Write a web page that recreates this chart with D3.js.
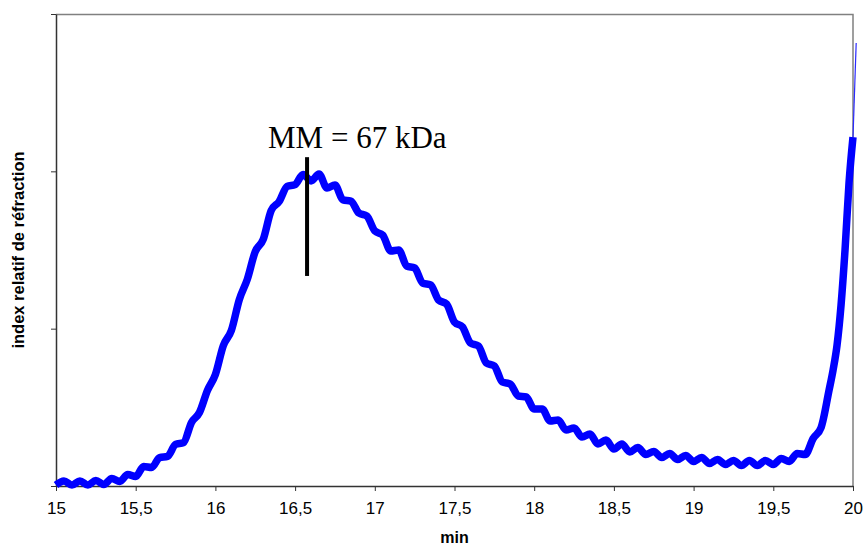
<!DOCTYPE html>
<html>
<head>
<meta charset="utf-8">
<script src="https://cdn.jsdelivr.net/npm/d3@7"></script>
<style>
  html, body { margin: 0; padding: 0; background: #ffffff; }
  svg { display: block; }
</style>
</head>
<body>
<svg id="chart" width="866" height="546"></svg>
<script>
// ---- data ----
const times = [
  15.00, 15.05, 15.10, 15.15, 15.20, 15.25, 15.30, 15.35, 15.40, 15.45,
  15.50, 15.55, 15.60, 15.65, 15.70, 15.75, 15.80, 15.85, 15.90, 15.95,
  16.00, 16.05, 16.10, 16.15, 16.20, 16.25, 16.30, 16.35, 16.40, 16.45,
  16.50, 16.55, 16.60, 16.65, 16.70, 16.75, 16.80, 16.85, 16.90, 16.95,
  17.00, 17.05, 17.10, 17.15, 17.20, 17.25, 17.30, 17.35, 17.40, 17.45,
  17.50, 17.55, 17.60, 17.65, 17.70, 17.75, 17.80, 17.85, 17.90, 17.95,
  18.00, 18.05, 18.10, 18.15, 18.20, 18.25, 18.30, 18.35, 18.40, 18.45,
  18.50, 18.55, 18.60, 18.65, 18.70, 18.75, 18.80, 18.85, 18.90, 18.95,
  19.00, 19.05, 19.10, 19.15, 19.20, 19.25, 19.30, 19.35, 19.40, 19.45,
  19.50, 19.55, 19.60, 19.65, 19.70, 19.75, 19.80, 19.85, 19.875, 19.90,
  19.925, 19.95, 19.975, 20.00
];
const refractionIndex = [
  0.006, 0.032, 0.006, 0.032, 0.006, 0.035, 0.010, 0.048, 0.029, 0.073,
  0.060, 0.124, 0.118, 0.181, 0.188, 0.264, 0.276, 0.404, 0.467, 0.607,
  0.709, 0.893, 0.988, 1.185, 1.313, 1.490, 1.567, 1.751, 1.808, 1.904,
  1.916, 1.980, 1.939, 1.983, 1.894, 1.913, 1.818, 1.811, 1.735, 1.716,
  1.621, 1.595, 1.494, 1.500, 1.398, 1.386, 1.290, 1.278, 1.182, 1.157,
  1.042, 1.011, 0.909, 0.890, 0.782, 0.763, 0.661, 0.648, 0.572, 0.566,
  0.489, 0.489, 0.413, 0.419, 0.356, 0.369, 0.311, 0.331, 0.267, 0.292,
  0.235, 0.267, 0.216, 0.245, 0.200, 0.219, 0.181, 0.207, 0.168, 0.194,
  0.156, 0.181, 0.143, 0.168, 0.137, 0.162, 0.130, 0.162, 0.130, 0.162,
  0.137, 0.175, 0.156, 0.207, 0.200, 0.302, 0.372, 0.610, 0.737, 0.896,
  1.150, 1.500, 1.926, 2.218
];
// last recorded point, beyond the end of the axis (drawn as a thin trace)
const overflowTimes = [20.00, 20.02];
const overflowValues = [2.218, 2.816];

const xTicks = [15, 15.5, 16, 16.5, 17, 17.5, 18, 18.5, 19, 19.5, 20];
const yTicks = [0, 1, 2, 3];
const xDomain = [15, 20];
const yDomain = [0, 3];

const annotationText = "MM = 67 kDa";
const annotationTime = 16.575;
const annotationRange = [1.335, 2.09];
const xTitle = "min";
const yTitle = "index relatif de réfraction";

// ---- layout ----
const W = 866, H = 546;
const margin = { left: 56, right: 13, top: 14, bottom: 60 };
const plotW = W - margin.left - margin.right;
const plotH = H - margin.top - margin.bottom;

const svg = d3.select("#chart");
const g = svg.append("g").attr("transform", `translate(${margin.left},${margin.top})`);

const x = d3.scaleLinear().domain(xDomain).range([0, plotW]);
const y = d3.scaleLinear().domain(yDomain).range([plotH, 0]);

const fmt = d => String(d).replace(".", ",");

// top and right frame (grey)
g.append("path")
  .attr("d", `M0,0.5H${plotW}V${plotH}`)
  .attr("fill", "none")
  .attr("stroke", "#808080")
  .attr("stroke-width", 1.5);

// x axis
const xAxis = g.append("g")
  .attr("transform", `translate(0,${plotH})`)
  .call(d3.axisBottom(x).tickValues(xTicks).tickFormat(fmt).tickSize(5).tickSizeOuter(0).tickPadding(11));
xAxis.select(".domain").attr("stroke", "#333333").attr("stroke-width", 1.5);
xAxis.selectAll(".tick line").attr("stroke", "#333333").attr("stroke-width", 1);
xAxis.selectAll(".tick text")
  .attr("font-family", "Liberation Sans, Arial, sans-serif")
  .attr("font-size", 17)
  .attr("fill", "#000");

// y axis (no labels)
const yAxis = g.append("g")
  .call(d3.axisLeft(y).tickValues(yTicks).tickFormat("").tickSize(5).tickSizeOuter(0));
yAxis.select(".domain").attr("stroke", "#333333").attr("stroke-width", 1.5);
yAxis.selectAll(".tick line").attr("stroke", "#333333").attr("stroke-width", 1);

// axis titles
svg.append("text")
  .attr("x", margin.left + plotW / 2)
  .attr("y", 543)
  .attr("text-anchor", "middle")
  .attr("font-family", "Liberation Sans, Arial, sans-serif")
  .attr("font-weight", "bold")
  .attr("font-size", 16)
  .text(xTitle);

svg.append("text")
  .attr("transform", `translate(24,${margin.top + plotH / 2}) rotate(-90)`)
  .attr("text-anchor", "middle")
  .attr("font-family", "Liberation Sans, Arial, sans-serif")
  .attr("font-weight", "bold")
  .attr("font-size", 16.5)
  .text(yTitle);

// series
const pts = times.map((t, i) => [t, refractionIndex[i]]);
const line = d3.line()
  .x(d => x(d[0]))
  .y(d => y(d[1]))
  .curve(d3.curveMonotoneX);

g.append("path")
  .datum(overflowTimes.map((t, i) => [t, overflowValues[i]]))
  .attr("d", d3.line().x(d => x(d[0])).y(d => y(d[1])))
  .attr("fill", "none")
  .attr("stroke", "#2a2aff")
  .attr("stroke-width", 1.2);

g.append("path")
  .datum(pts)
  .attr("d", line)
  .attr("fill", "none")
  .attr("stroke", "#0000ff")
  .attr("stroke-width", 7.5)
  .attr("stroke-linejoin", "round")
  .attr("stroke-linecap", "butt");

// annotation
g.append("line")
  .attr("x1", x(annotationTime)).attr("x2", x(annotationTime))
  .attr("y1", y(annotationRange[0])).attr("y2", y(annotationRange[1]))
  .attr("stroke", "#000")
  .attr("stroke-width", 4);

g.append("text")
  .attr("x", x(annotationTime) - 39)
  .attr("y", y(annotationRange[1]) - 9)
  .attr("font-family", "Liberation Serif, 'Times New Roman', serif")
  .attr("font-size", 31)
  .attr("fill", "#000")
  .text(annotationText);
</script>
</body>
</html>
